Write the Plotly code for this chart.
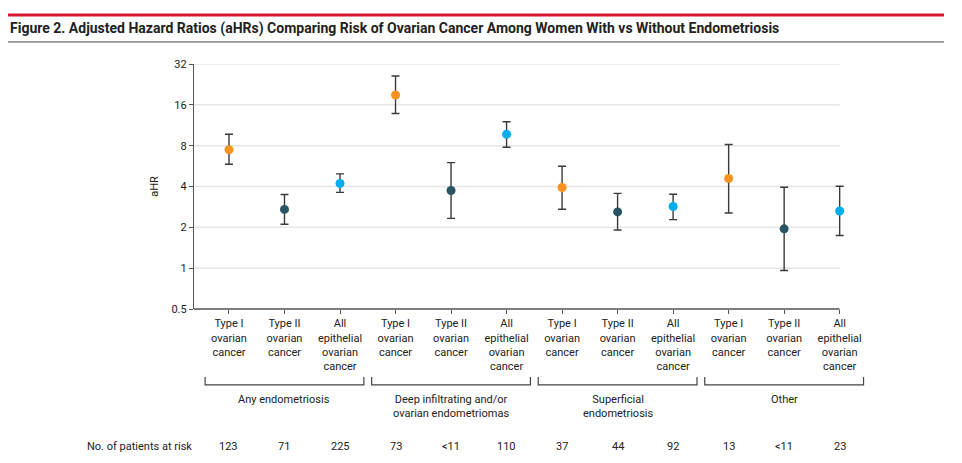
import plotly.graph_objects as go

# aHR estimates with 95% CI (log2 scale)
outcomes = ["Type I<br>ovarian<br>cancer", "Type II<br>ovarian<br>cancer",
            "All<br>epithelial<br>ovarian<br>cancer"]
groups = ["Any endometriosis",
          "Deep infiltrating and/or<br>ovarian endometriomas",
          "Superficial<br>endometriosis", "Other"]

ahr = [7.47, 2.71, 4.21, 18.9, 3.74, 9.7, 3.93, 2.60, 2.85, 4.58, 1.95, 2.64]
ci_low = [5.83, 2.11, 3.62, 13.8, 2.33, 7.78, 2.72, 1.91, 2.28, 2.55, 0.96, 1.74]
ci_high = [9.7, 3.49, 4.96, 26.1, 6.0, 12.0, 5.64, 3.56, 3.51, 8.17, 3.95, 4.02]
at_risk = ["123", "71", "225", "73", "<11", "110",
           "37", "44", "92", "13", "<11", "23"]
y_ticks = [0.5, 1, 2, 4, 8, 16, 32]

colors = {"Type I": "#F7931E", "Type II": "#2A5464", "All": "#00AEEF"}
FONT = "Roboto"

# axis runs to the last category; a little extra room keeps its error bar
# from being clipped, while grid and axis line are drawn only up to it
x_start, x_end = -0.63, len(ahr) - 1
x_range = [x_start, x_end + 0.15]

# the page body has an 8px margin, so the plot box is shifted to compensate
M_LEFT, M_TOP = 186, 56
PX_PER_CAT = 646 / (x_end - x_start)
PLOT_W = round(PX_PER_CAT * (x_range[1] - x_range[0]))


def to_paper(x):
    """Convert a category position to paper coordinates."""
    return (x - x_range[0]) / (x_range[1] - x_range[0])


def px_to_paper(px):
    """Horizontal pixel position on the page to paper coordinates."""
    return (px - 8 - M_LEFT) / PLOT_W


fig = go.Figure()

# light horizontal gridlines and the x axis line
for v in y_ticks[1:]:
    fig.add_shape(type="line", xref="x", yref="y", x0=x_start, x1=x_end,
                  y0=v, y1=v, line=dict(color="#e6e6e6", width=1.5),
                  layer="below")
fig.add_shape(type="line", xref="x", yref="paper", x0=x_start, x1=x_end,
              y0=0, y1=0, line=dict(color="#555", width=1.3))

# one trace per outcome type so each gets its own colour
for k, key in enumerate(["Type I", "Type II", "All"]):
    idx = [g * 3 + k for g in range(len(groups))]
    fig.add_trace(go.Scatter(
        x=idx, y=[ahr[i] for i in idx], mode="markers", cliponaxis=False,
        marker=dict(size=9, color=colors[key]),
        error_y=dict(type="data", symmetric=False,
                     array=[ci_high[i] - ahr[i] for i in idx],
                     arrayminus=[ahr[i] - ci_low[i] for i in idx],
                     color="#3a3a3a", thickness=1.4, width=4),
        showlegend=False, hoverinfo="skip"))

tickvals = list(range(len(ahr)))
ticktext = [outcomes[i % 3] for i in tickvals]

fig.update_xaxes(range=x_range, tickvals=tickvals, ticktext=ticktext,
                 showgrid=False, zeroline=False, showline=False,
                 ticks="outside", ticklen=4, tickcolor="#555",
                 tickfont=dict(family=FONT, size=11, color="#222"))
fig.update_yaxes(type="log", range=[-0.30103, 1.50515],
                 tickvals=y_ticks, ticktext=[str(v) for v in y_ticks],
                 showgrid=False, showline=True, linecolor="#555",
                 linewidth=1.3, ticks="outside", ticklen=4, tickcolor="#555",
                 tickfont=dict(family=FONT, size=11, color="#222"),
                 title=dict(text="aHR", standoff=10,
                            font=dict(family=FONT, size=11, color="#222")))

# group brackets and labels below the category labels
for g, name in enumerate(groups):
    x0 = to_paper(g * 3 - 0.43)
    x1 = to_paper(g * 3 + 2.43)
    fig.add_shape(type="path", xref="paper", yref="paper",
                  path=f"M {x0} -0.278 L {x0} -0.31 L {x1} -0.31 L {x1} -0.278",
                  line=dict(color="#444", width=1.2))
    fig.add_annotation(x=g * 3 + 1, y=-0.335, xref="x", yref="paper",
                       text=name, showarrow=False, yanchor="top",
                       font=dict(family=FONT, size=11, color="#222"))

# patients at risk row
fig.add_annotation(x=0, y=-0.56, xref="paper", yref="paper",
                   text="No. of patients at risk", showarrow=False,
                   xanchor="right", yanchor="middle",
                   font=dict(family=FONT, size=11, color="#222"))
for i, n in enumerate(at_risk):
    fig.add_annotation(x=i, y=-0.56, xref="x", yref="paper", text=n,
                       showarrow=False, yanchor="middle",
                       font=dict(family=FONT, size=11, color="#222"))

# title with red rule above and dark rule below
x_left, x_right = px_to_paper(8), px_to_paper(944)
fig.add_shape(type="line", xref="paper", yref="paper",
              x0=x_left, x1=x_right, y0=1.2, y1=1.2,
              line=dict(color="#D7172F", width=3))
fig.add_shape(type="line", xref="paper", yref="paper",
              x0=x_left, x1=x_right, y0=1.09, y1=1.09,
              line=dict(color="#444", width=1))
fig.add_annotation(x=x_left, y=1.145, xref="paper", yref="paper",
                   text="<b>Figure 2. Adjusted Hazard Ratios (aHRs) Comparing "
                        "Risk of Ovarian Cancer Among Women With vs Without "
                        "Endometriosis</b>",
                   showarrow=False, xanchor="left", yanchor="middle",
                   font=dict(family=FONT, size=14, color="#222"))

fig.update_layout(width=962, height=463, plot_bgcolor="white",
                  paper_bgcolor="white",
                  margin=dict(l=M_LEFT, r=962 - M_LEFT - PLOT_W, t=M_TOP,
                              b=463 - M_TOP - 245))

fig.write_html("out.html")
